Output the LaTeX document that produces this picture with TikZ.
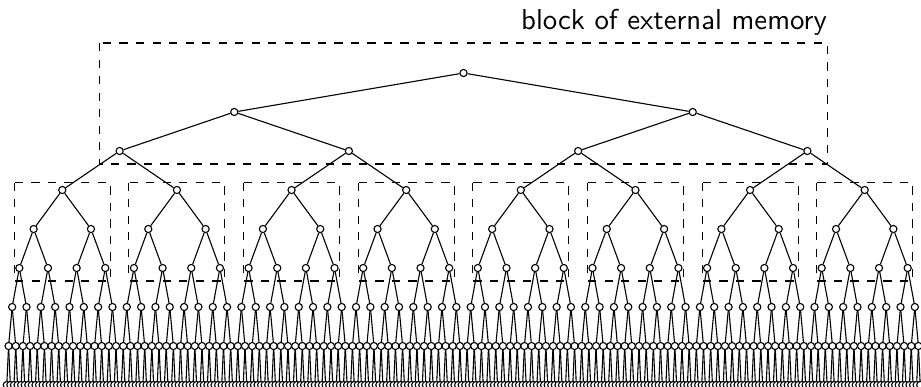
\documentclass[tikz,border=0pt]{standalone}
\usepackage{tikz}
\usetikzlibrary{calc}

\begin{document}
\begin{tikzpicture}[
    x=0.363pt, y=-0.363pt,
    vertex/.style={circle, draw, fill=white, inner sep=0pt, minimum size=2.6pt},
    edge/.style={thin},
    memblock/.style={dashed, thin},
    caption/.style={font=\sffamily\fontsize{10.45}{12.5}\selectfont, inner sep=0pt, anchor=base east}
]
\clip (0,0) rectangle (921,386);

% Tree vertices, level by level
\foreach \l in {0,...,8} {
    \pgfmathtruncatemacro\last{2^\l-1}
    \foreach \i in {0,...,\last} {
        \node[vertex] (v-\l-\i) at ({5+(\i+0.5)/(2^\l)*917}, {73+39*\l}) {};
    }
}

% Edges from each vertex to its two children
\foreach \l in {0,...,7} {
    \pgfmathtruncatemacro\last{2^\l-1}
    \pgfmathtruncatemacro\down{\l+1}
    \foreach \i in {0,...,\last} {
        \pgfmathtruncatemacro\lkid{2*\i}
        \pgfmathtruncatemacro\rkid{2*\i+1}
        \draw[edge] (v-\l-\i) -- (v-\down-\lkid);
        \draw[edge] (v-\l-\i) -- (v-\down-\rkid);
    }
}

% Top block
\draw[memblock] ($(v-2-0)+(-20,-108)$) rectangle ($(v-2-3)+(20,13)$);

% Lower blocks
\foreach \k in {0,...,7} {
    \draw[memblock] ($(v-3-\k)+(-48,-7.5)$) rectangle ($(v-3-\k)+(48,91)$);
}

% Label
\node[caption] (memlabel) at ($(v-2-3)+(20,-122)$) {block of external memory};

\end{tikzpicture}
\end{document}
